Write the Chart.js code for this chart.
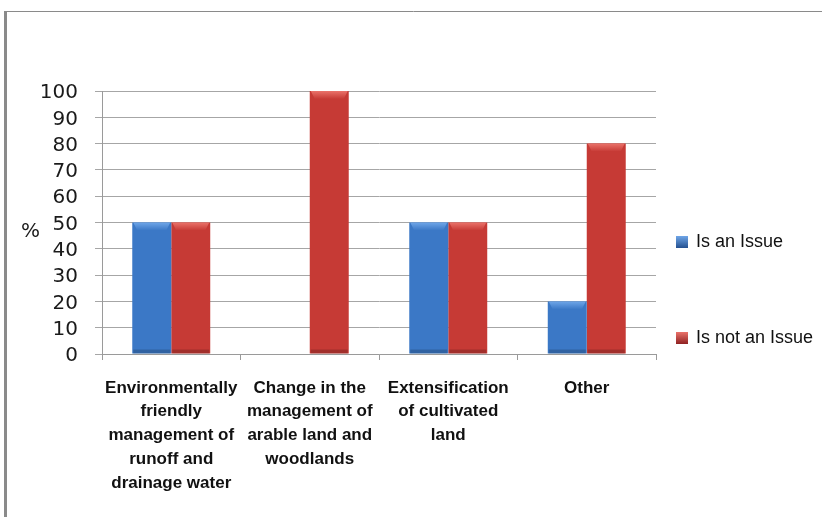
<!DOCTYPE html>
<html>
<head>
<meta charset="utf-8">
<script src="https://cdn.jsdelivr.net/npm/chart.js@4.4.1/dist/chart.umd.min.js"></script>
<style>
  html, body { margin: 0; padding: 0; background: #ffffff; }
  #wrap { position: relative; width: 822px; height: 517px; }
  canvas { display: block; }
</style>
</head>
<body>
<div id="wrap"><canvas id="chart" width="822" height="517"></canvas></div>
<script>
// Survey categories (multi-line labels) and the two answer series, in percent
const categories = [
  ["Environmentally", "friendly", "management of", "runoff and", "drainage water"],
  ["Change in the", "management of", "arable land and", "woodlands"],
  ["Extensification", "of cultivated", "land"],
  ["Other"]
];
const seriesNames = ["Is an Issue", "Is not an Issue"];
const isAnIssue = [50, 0, 50, 20];
const isNotAnIssue = [50, 100, 50, 80];
const yTicks = [0, 10, 20, 30, 40, 50, 60, 70, 80, 90, 100];

const palette = {
  blue: { edge: "#24508f", mid: "#3b78c6", light: "#6fa6e8" },
  red:  { edge: "#8f2222", mid: "#c63a35", light: "#ea726a" }
};

// Horizontal shading that gives the bars a rounded, bevelled look
function barFill(tone) {
  return function (ctx) {
    const chart = ctx.chart;
    const el = ctx.element;
    if (!el || el.width === undefined || !chart.chartArea) return tone.mid;
    const x0 = el.x - el.width / 2, x1 = el.x + el.width / 2;
    const g = chart.ctx.createLinearGradient(x0, 0, x1, 0);
    g.addColorStop(0, tone.edge);
    g.addColorStop(0.1, tone.mid);
    g.addColorStop(0.5, tone.mid);
    g.addColorStop(0.88, tone.mid);
    g.addColorStop(1, tone.edge);
    return g;
  };
}

// Frame, "%" axis caption, bar caps and the side legend
const decorations = {
  id: "decorations",
  beforeDraw(chart) {
    const c = chart.ctx;
    c.save();
    c.fillStyle = "#ffffff";
    c.fillRect(0, 0, chart.width, chart.height);
    c.strokeStyle = "#8a8a8a";
    c.lineWidth = 1;
    c.beginPath();
    c.moveTo(5, 11.5);
    c.lineTo(chart.width, 11.5);
    c.stroke();
    c.lineWidth = 3;
    c.beginPath();
    c.moveTo(5.5, 11);
    c.lineTo(5.5, chart.height);
    c.stroke();
    c.restore();
  },
  afterDatasetsDraw(chart) {
    const c = chart.ctx;
    const tones = [palette.blue, palette.red];
    c.save();
    chart.data.datasets.forEach((ds, di) => {
      const meta = chart.getDatasetMeta(di);
      meta.data.forEach((bar) => {
        const h = bar.base - bar.y;
        if (h < 2) return;
        const left = bar.x - bar.width / 2, w = bar.width;
        const cap = Math.min(8, h / 2);
        // light top cap
        const g = c.createLinearGradient(0, bar.y, 0, bar.y + cap);
        g.addColorStop(0, tones[di].light);
        g.addColorStop(1, tones[di].mid);
        c.beginPath();
        c.moveTo(left + 1, bar.y);
        c.lineTo(left + w - 1, bar.y);
        c.lineTo(left + w - 5, bar.y + cap);
        c.lineTo(left + 5, bar.y + cap);
        c.closePath();
        c.fillStyle = g;
        c.fill();
        // subtle shadow along the base
        c.globalAlpha = 0.18;
        c.fillStyle = "#000000";
        c.fillRect(left + 1, bar.base - 4, w - 2, 4);
        c.globalAlpha = 1;
      });
    });
    c.restore();
  },
  afterDraw(chart) {
    const c = chart.ctx;
    const y = chart.scales.y;
    c.save();
    c.fillStyle = "#1a1a1a";
    c.font = '20px "DejaVu Sans"';
    c.textAlign = "left";
    c.textBaseline = "middle";
    c.fillText("%", 21, y.getPixelForValue(46.5));

    // legend
    const tones = [palette.blue, palette.red];
    const rows = [242, 338];
    c.font = '18px "Liberation Sans"';
    seriesNames.forEach((name, i) => {
      const ry = rows[i];
      const g = c.createLinearGradient(0, ry - 6, 0, ry + 6);
      g.addColorStop(0, tones[i].light);
      g.addColorStop(1, tones[i].edge);
      c.fillStyle = g;
      c.fillRect(676, ry - 6, 12, 12);
      c.fillStyle = "#111111";
      c.fillText(name, 696, ry);
    });
    c.restore();
  }
};

new Chart(document.getElementById("chart"), {
  type: "bar",
  data: {
    labels: categories,
    datasets: [
      {
        label: seriesNames[0],
        data: isAnIssue,
        backgroundColor: barFill(palette.blue),
        borderWidth: 0
      },
      {
        label: seriesNames[1],
        data: isNotAnIssue,
        backgroundColor: barFill(palette.red),
        borderWidth: 0
      }
    ]
  },
  plugins: [decorations],
  options: {
    responsive: false,
    animation: false,
    devicePixelRatio: 1,
    layout: { padding: { left: 0, top: 91, right: 166, bottom: 0 } },
    datasets: { bar: { categoryPercentage: 0.563, barPercentage: 1 } },
    plugins: { legend: { display: false }, tooltip: { enabled: false } },
    scales: {
      x: {
        offset: true,
        grid: {
          offset: true,
          drawOnChartArea: false,
          drawTicks: true,
          tickLength: 6,
          color: "#9a9a9a"
        },
        border: { color: "#9a9a9a", width: 1 },
        ticks: {
          maxRotation: 0,
          autoSkip: false,
          padding: 16,
          color: "#111111",
          font: { family: "Liberation Sans", size: 17, weight: "bold", lineHeight: 1.4 }
        },
        afterFit(scale) { scale.height = 517 - 354; }
      },
      y: {
        min: 0,
        max: 100,
        afterBuildTicks(scale) { scale.ticks = yTicks.map(v => ({ value: v })); },
        grid: { color: "#a6a6a6", tickLength: 7, lineWidth: 1 },
        border: { color: "#9a9a9a", width: 1 },
        ticks: {
          autoSkip: false,
          padding: 17,
          labelOffset: 2,
          color: "#1a1a1a",
          font: { family: "DejaVu Sans", size: 20 }
        },
        afterFit(scale) { scale.width = 102; }
      }
    }
  }
});
</script>
</body>
</html>
